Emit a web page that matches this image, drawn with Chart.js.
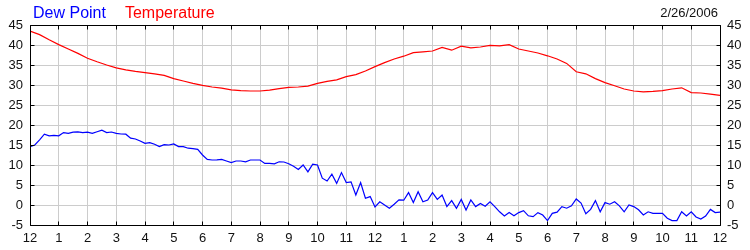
<!DOCTYPE html>
<html><head><meta charset="utf-8">
<script src="https://cdn.jsdelivr.net/npm/chart.js@4/dist/chart.umd.min.js"></script>
<style>html,body{margin:0;padding:0;background:#fff;}canvas{display:block;}</style>
</head><body>
<canvas id="c" width="750" height="250"></canvas>
<script>
const dateLabel = '2/26/2006';
const seriesNames = ['Dew Point', 'Temperature'];
const hourLabels = ['12','1','2','3','4','5','6','7','8','9','10','11','12','1','2','3','4','5','6','7','8','9','10','11','12'];
const yTickValues = [-5, 0, 5, 10, 15, 20, 25, 30, 35, 40, 45];
const tempStepMinutes = 20;
const dewStepMinutes = 10;
const temperature = [43.5,42.6,41.3,40.1,39.0,37.9,36.7,35.8,35.0,34.3,
  33.8,33.4,33.1,32.8,32.4,31.6,31.0,30.4,29.9,29.5,
  29.2,28.8,28.6,28.5,28.5,28.7,29.1,29.4,29.5,29.7,
  30.4,30.9,31.3,32.1,32.6,33.5,34.6,35.6,36.5,37.2,
  38.1,38.3,38.5,39.4,38.7,39.7,39.3,39.5,39.9,39.8,
  40.1,39.0,38.5,38.0,37.3,36.5,35.4,33.3,32.8,31.6,
  30.6,29.8,29.0,28.5,28.3,28.4,28.6,29.0,29.3,28.1,
  28.0,27.7,27.4];
const dewPoint = [14.6,15.0,16.3,17.7,17.3,17.4,17.3,18.1,17.9,18.2,
  18.3,18.1,18.2,17.9,18.3,18.7,18.1,18.25,17.9,17.75,
  17.7,16.7,16.5,16.0,15.4,15.6,15.2,14.6,15.1,15.0,
  15.25,14.6,14.6,14.2,14.1,13.9,12.5,11.4,11.25,11.3,
  11.4,11.0,10.6,11.0,11.0,10.8,11.25,11.25,11.25,10.4,
  10.4,10.3,10.8,10.75,10.3,9.7,8.9,10.0,8.3,10.2,
  10.0,6.7,6.0,7.7,5.4,8.1,5.6,5.8,2.5,5.6,
  1.7,2.1,-0.5,0.8,0.0,-0.8,0.2,1.3,1.2,3.1,
  0.6,3.3,0.8,1.25,3.1,1.4,2.5,-0.4,1.1,-0.8,
  1.4,-1.25,1.25,-0.4,0.4,-0.3,0.8,-0.4,-1.7,-2.75,
  -1.9,-2.7,-1.9,-1.4,-2.7,-2.9,-1.9,-2.5,-3.9,-2.1,
  -1.8,-0.4,-0.8,-0.2,1.5,0.5,-2.2,-1.1,1.1,-1.7,
  0.6,0.2,0.8,-0.2,-1.7,0.0,-0.4,-1.2,-2.5,-1.7,
  -2.1,-2.1,-2.1,-3.3,-3.9,-3.9,-1.7,-2.75,-1.7,-3.0,
  -3.5,-2.75,-1.1,-1.9,-1.8];

const FONT = '"Liberation Sans", Arial, sans-serif';
const GRID = '#cccccc';
const TICKCOL = '#111111';

function align(p){ return Math.round(p - 0.5) + 0.5; }

const framePlugin = {
  id: 'frame',
  afterDraw(chart){
    const ctx = chart.ctx, a = chart.chartArea, sx = chart.scales.x, sy = chart.scales.y;
    ctx.save();
    ctx.strokeStyle = '#000'; ctx.lineWidth = 1;
    const L = align(a.left), R = align(a.right), T = align(a.top), B = align(a.bottom);
    ctx.beginPath();
    ctx.rect(L, T, R - L, B - T);
    sx.ticks.forEach(t => {
      const px = align(sx.getPixelForValue(t.value));
      ctx.moveTo(px, B); ctx.lineTo(px, B - 4);
      ctx.moveTo(px, T); ctx.lineTo(px, T + 4);
    });
    sy.ticks.forEach(t => {
      const py = align(sy.getPixelForValue(t.value));
      ctx.moveTo(L, py); ctx.lineTo(L + 4, py);
      ctx.moveTo(R, py); ctx.lineTo(R - 4, py);
    });
    ctx.stroke();
    // legend text
    ctx.textBaseline = 'alphabetic';
    ctx.font = '16px ' + FONT;
    let x = 33;
    const order = [1, 0];
    order.forEach(i => {
      const ds = chart.data.datasets[i];
      ctx.fillStyle = ds.borderColor;
      ctx.textAlign = 'left';
      ctx.fillText(ds.label, x, 18);
      x += ctx.measureText(ds.label).width + 19;
    });
    ctx.font = '13px ' + FONT;
    ctx.fillStyle = '#111';
    ctx.textAlign = 'right';
    ctx.fillText(dateLabel, 718, 17);
    ctx.restore();
  }
};

new Chart(document.getElementById('c'), {
  type: 'line',
  data: {
    datasets: [
      { label: seriesNames[1], data: temperature.map((v, i) => ({ x: i * tempStepMinutes / 60, y: v })),
        borderColor: '#ff0000', borderWidth: 1.2, pointRadius: 0, tension: 0, fill: false },
      { label: seriesNames[0], data: dewPoint.map((v, i) => ({ x: i * dewStepMinutes / 60, y: v })),
        borderColor: '#0000ff', borderWidth: 1.2, pointRadius: 0, tension: 0, fill: false }
    ]
  },
  options: {
    responsive: false,
    animation: false,
    devicePixelRatio: 1,
    layout: { padding: { top: 25, left: 0, right: 0, bottom: 0 } },
    plugins: { legend: { display: false }, title: { display: false }, tooltip: { enabled: false } },
    scales: {
      x: {
        type: 'linear', position: 'bottom', min: 0, max: 24,
        afterBuildTicks(s){ s.ticks = hourLabels.map((l, i) => ({ value: i })); },
        ticks: { autoSkip: false, maxRotation: 0, color: TICKCOL, font: { size: 13, family: FONT }, padding: 6,
          callback: v => hourLabels[v] },
        grid: { color: GRID, drawTicks: false },
        border: { display: false },
        afterFit(s){ s.height = 25; }
      },
      y: {
        type: 'linear', position: 'left', min: -5, max: 45,
        afterBuildTicks(s){ s.ticks = yTickValues.map(v => ({ value: v })); },
        ticks: { color: TICKCOL, font: { size: 13, family: FONT }, padding: 7 },
        grid: { color: GRID, drawTicks: false },
        border: { display: false },
        afterFit(s){ s.width = 30; }
      },
      y2: {
        type: 'linear', position: 'right', min: -5, max: 45,
        afterBuildTicks(s){ s.ticks = yTickValues.map(v => ({ value: v })); },
        ticks: { color: TICKCOL, font: { size: 13, family: FONT }, padding: 7 },
        grid: { display: false, drawTicks: false },
        border: { display: false },
        afterFit(s){ s.width = 30; }
      }
    }
  },
  plugins: [framePlugin]
});
</script>
</body></html>
